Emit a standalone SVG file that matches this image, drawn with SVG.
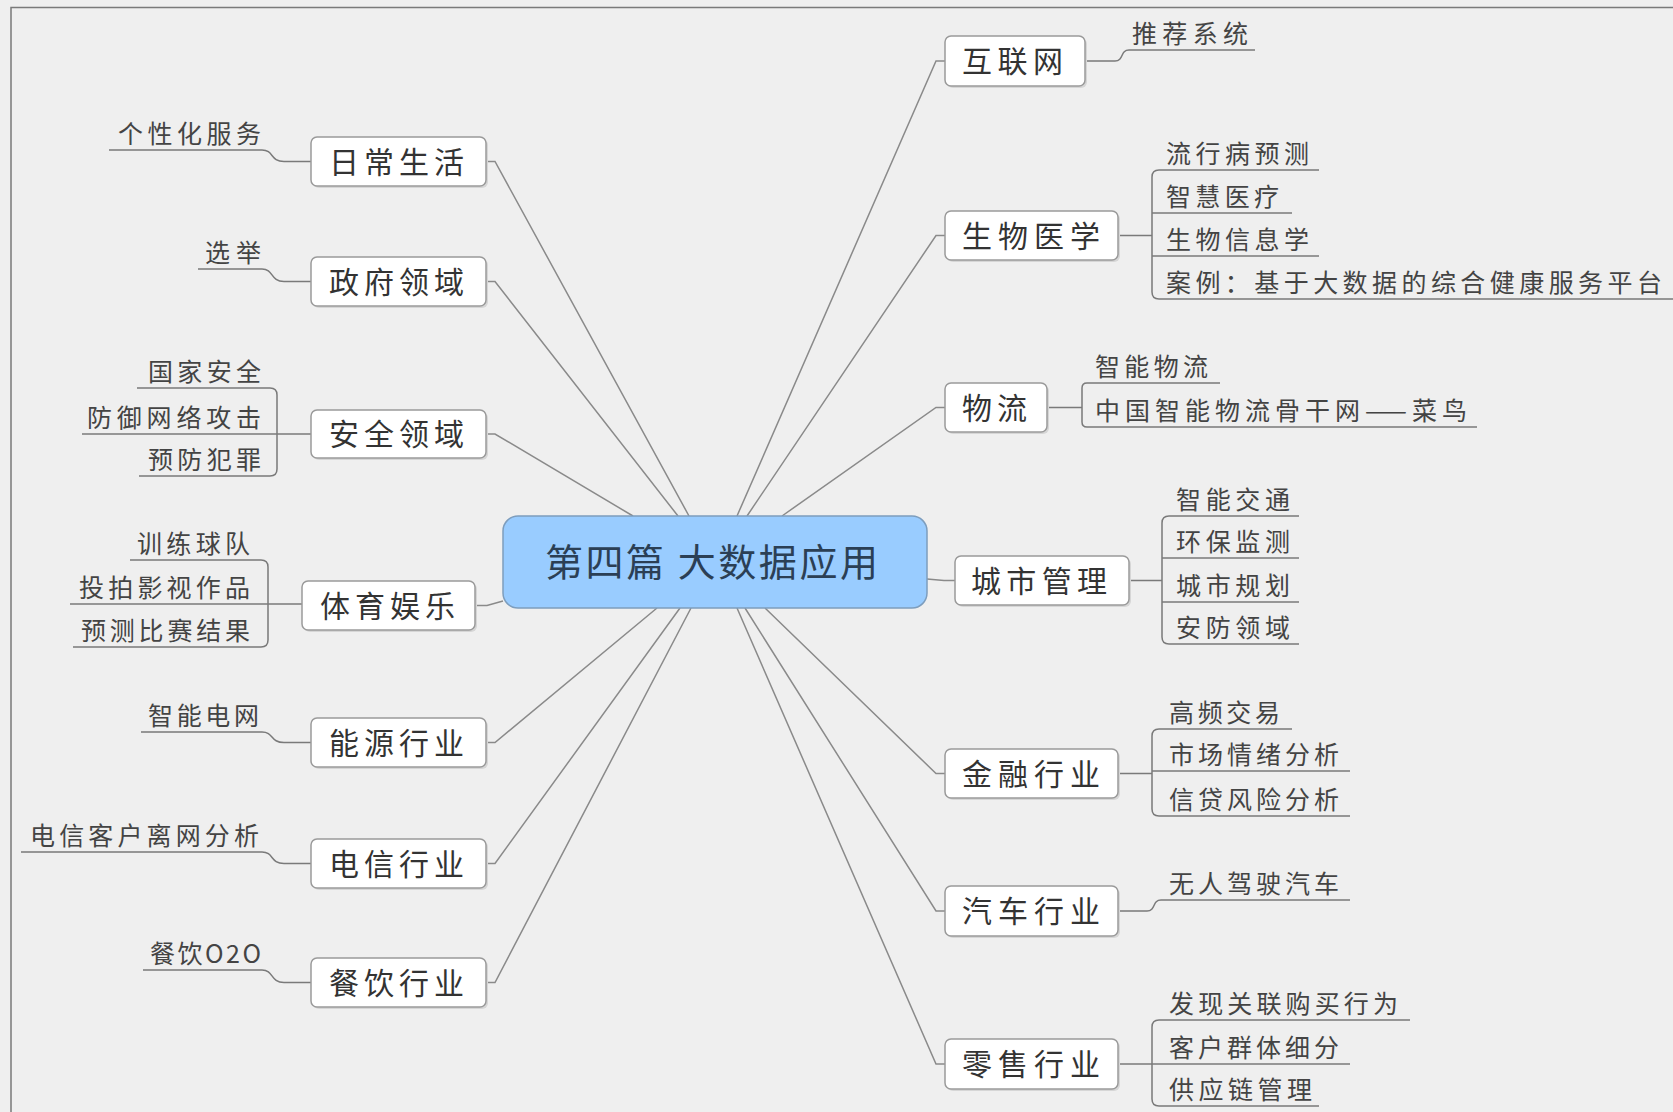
<svg xmlns="http://www.w3.org/2000/svg" width="1673" height="1112" viewBox="0 0 1673 1112">
<style>
.bg{fill:#efefef}
.frame{fill:none;stroke:#7a7a7a;stroke-width:1.5}
.box{fill:#ffffff;stroke:#9a9a9a;stroke-width:1.5}
.shadow{fill:#d6d6d6}
.nt{font-family:"Noto Sans CJK SC","Noto Sans",sans-serif;font-size:30px;fill:#333}
.st{font-family:"Noto Sans CJK SC","Noto Sans",sans-serif;font-size:25px;fill:#444}
.ct{font-family:"Noto Sans CJK SC","Noto Sans",sans-serif;font-size:38px;fill:#2b3f55}
.ln{fill:none;stroke:#8a8a8a;stroke-width:1.5}
.ul{fill:none;stroke:#7a7a7a;stroke-width:1.5}
</style>
<rect class="bg" x="0" y="0" width="1673" height="1112"/>
<path class="frame" d="M11,1112 V7.5 H1673"/>

<g id="connectors">
  <path class="ln" d="M486,161.5 H495 L689,516"/>
  <path class="ln" d="M486,281.5 H495 L678,516"/>
  <path class="ln" d="M486,434 H495 L633,516"/>
  <path class="ln" d="M475,605.5 H487 L503,601"/>
  <path class="ln" d="M486,742.5 H495 L657,608"/>
  <path class="ln" d="M486,863.5 H495 L680,608"/>
  <path class="ln" d="M486,982.5 H495 L691,608"/>
  <path class="ln" d="M945,61 H936 L737,516"/>
  <path class="ln" d="M945,235.5 H936 L747,516"/>
  <path class="ln" d="M945,407.5 H936 L782,516"/>
  <path class="ln" d="M955,580.5 H944 L927,579"/>
  <path class="ln" d="M945,773.5 H936 L765,608"/>
  <path class="ln" d="M945,911 H936 L745,608"/>
  <path class="ln" d="M945,1064 H936 L737,608"/>

  <path class="ul" d="M109,150 H262 C274,150 270,161.5 284,161.5 H311"/>
  <path class="ul" d="M198,269 H262 C274,269 270,281.5 284,281.5 H311"/>
  <path class="ul" d="M137,388 H270 Q277,388 277,395 V469 Q277,476 270,476 H139"/>
  <path class="ul" d="M82,434 H311"/>
  <path class="ul" d="M130,560 H261 Q268,560 268,567 V640 Q268,647 261,647 H73"/>
  <path class="ul" d="M70,604 H302"/>
  <path class="ul" d="M141,732 H262 C274,732 270,742.5 284,742.5 H311"/>
  <path class="ul" d="M21,852 H262 C274,852 270,863.5 284,863.5 H311"/>
  <path class="ul" d="M143,970 H262 C274,970 270,982.5 284,982.5 H311"/>

  <path class="ul" d="M1085,61 H1115 C1124,61 1120,50 1129,50 H1255"/>
  <path class="ul" d="M1118,235.5 H1152"/>
  <path class="ul" d="M1319,170 H1159 Q1152,170 1152,177 V292 Q1152,299 1159,299 H1673"/>
  <path class="ul" d="M1152,213 H1292"/>
  <path class="ul" d="M1152,256 H1319"/>
  <path class="ul" d="M1047,407.5 H1082"/>
  <path class="ul" d="M1220,383 H1087 Q1082,383 1082,388 V422 Q1082,427 1087,427 H1477"/>
  <path class="ul" d="M1129,580.5 H1162"/>
  <path class="ul" d="M1299,516 H1169 Q1162,516 1162,523 V637 Q1162,644 1169,644 H1299"/>
  <path class="ul" d="M1162,558 H1299"/>
  <path class="ul" d="M1162,602 H1299"/>
  <path class="ul" d="M1118,773.5 H1152"/>
  <path class="ul" d="M1292,729 H1159 Q1152,729 1152,736 V809 Q1152,816 1159,816 H1350"/>
  <path class="ul" d="M1152,771 H1350"/>
  <path class="ul" d="M1118,911 H1147 C1156,911 1152,900 1161,900 H1350"/>
  <path class="ul" d="M1118,1064 H1152"/>
  <path class="ul" d="M1410,1020 H1159 Q1152,1020 1152,1027 V1099 Q1152,1106 1159,1106 H1319"/>
  <path class="ul" d="M1152,1064 H1350"/>
</g>

<g id="center">
  <rect x="503" y="516" width="424" height="92" rx="15" fill="#99ccff" stroke="#7d9dbd" stroke-width="1.5"/>
  <text class="ct" x="545" y="576" textLength="333" lengthAdjust="spacing">第四篇 大数据应用</text>
</g>

<g id="n-daily">
  <rect class="shadow" x="313" y="139" width="175" height="49" rx="6"/>
  <rect class="box" x="311" y="137" width="175" height="49" rx="6"/>
  <text class="nt" x="329" y="172.5" textLength="135" lengthAdjust="spacing">日常生活</text>
</g>
<g id="n-gov">
  <rect class="shadow" x="313" y="259" width="175" height="49" rx="6"/>
  <rect class="box" x="311" y="257" width="175" height="49" rx="6"/>
  <text class="nt" x="329" y="292.5" textLength="135" lengthAdjust="spacing">政府领域</text>
</g>
<g id="n-sec">
  <rect class="shadow" x="313" y="412" width="175" height="48" rx="6"/>
  <rect class="box" x="311" y="410" width="175" height="48" rx="6"/>
  <text class="nt" x="329" y="445" textLength="135" lengthAdjust="spacing">安全领域</text>
</g>
<g id="n-sport">
  <rect class="shadow" x="304" y="583" width="173" height="49" rx="6"/>
  <rect class="box" x="302" y="581" width="173" height="49" rx="6"/>
  <text class="nt" x="320" y="616.5" textLength="135" lengthAdjust="spacing">体育娱乐</text>
</g>
<g id="n-energy">
  <rect class="shadow" x="313" y="720" width="175" height="49" rx="6"/>
  <rect class="box" x="311" y="718" width="175" height="49" rx="6"/>
  <text class="nt" x="329" y="753.5" textLength="135" lengthAdjust="spacing">能源行业</text>
</g>
<g id="n-tele">
  <rect class="shadow" x="313" y="841" width="175" height="49" rx="6"/>
  <rect class="box" x="311" y="839" width="175" height="49" rx="6"/>
  <text class="nt" x="329" y="874.5" textLength="135" lengthAdjust="spacing">电信行业</text>
</g>
<g id="n-food">
  <rect class="shadow" x="313" y="960" width="175" height="49" rx="6"/>
  <rect class="box" x="311" y="958" width="175" height="49" rx="6"/>
  <text class="nt" x="329" y="993.5" textLength="135" lengthAdjust="spacing">餐饮行业</text>
</g>

<g id="n-net">
  <rect class="shadow" x="947" y="38" width="140" height="50" rx="6"/>
  <rect class="box" x="945" y="36" width="140" height="50" rx="6"/>
  <text class="nt" x="962" y="72" textLength="101" lengthAdjust="spacing">互联网</text>
</g>
<g id="n-bio">
  <rect class="shadow" x="947" y="213" width="173" height="49" rx="6"/>
  <rect class="box" x="945" y="211" width="173" height="49" rx="6"/>
  <text class="nt" x="962" y="246.5" textLength="138" lengthAdjust="spacing">生物医学</text>
</g>
<g id="n-log">
  <rect class="shadow" x="947" y="385" width="102" height="49" rx="6"/>
  <rect class="box" x="945" y="383" width="102" height="49" rx="6"/>
  <text class="nt" x="962" y="418.5" textLength="65" lengthAdjust="spacing">物流</text>
</g>
<g id="n-city">
  <rect class="shadow" x="957" y="558" width="174" height="49" rx="6"/>
  <rect class="box" x="955" y="556" width="174" height="49" rx="6"/>
  <text class="nt" x="971" y="591.5" textLength="136" lengthAdjust="spacing">城市管理</text>
</g>
<g id="n-fin">
  <rect class="shadow" x="947" y="751" width="173" height="49" rx="6"/>
  <rect class="box" x="945" y="749" width="173" height="49" rx="6"/>
  <text class="nt" x="962" y="784.5" textLength="138" lengthAdjust="spacing">金融行业</text>
</g>
<g id="n-car">
  <rect class="shadow" x="947" y="888" width="173" height="50" rx="6"/>
  <rect class="box" x="945" y="886" width="173" height="50" rx="6"/>
  <text class="nt" x="962" y="922" textLength="138" lengthAdjust="spacing">汽车行业</text>
</g>
<g id="n-retail">
  <rect class="shadow" x="947" y="1041" width="173" height="50" rx="6"/>
  <rect class="box" x="945" y="1039" width="173" height="50" rx="6"/>
  <text class="nt" x="962" y="1075" textLength="138" lengthAdjust="spacing">零售行业</text>
</g>

<g id="s-left">
  <text class="st" x="118" y="143" textLength="143" lengthAdjust="spacing">个性化服务</text>
  <text class="st" x="205" y="262" textLength="56" lengthAdjust="spacing">选举</text>
  <text class="st" x="148" y="381" textLength="113" lengthAdjust="spacing">国家安全</text>
  <text class="st" x="87" y="427" textLength="174" lengthAdjust="spacing">防御网络攻击</text>
  <text class="st" x="148" y="469" textLength="113" lengthAdjust="spacing">预防犯罪</text>
  <text class="st" x="137" y="553" textLength="113" lengthAdjust="spacing">训练球队</text>
  <text class="st" x="79" y="597" textLength="171" lengthAdjust="spacing">投拍影视作品</text>
  <text class="st" x="81" y="640" textLength="169" lengthAdjust="spacing">预测比赛结果</text>
  <text class="st" x="148" y="725" textLength="111" lengthAdjust="spacing">智能电网</text>
  <text class="st" x="30" y="845" textLength="229" lengthAdjust="spacing">电信客户离网分析</text>
  <text class="st" x="150" y="963" textLength="111" lengthAdjust="spacing">餐饮O2O</text>
</g>

<g id="s-right">
  <text class="st" x="1132" y="43" textLength="116" lengthAdjust="spacing">推荐系统</text>
  <text class="st" x="1166" y="163" textLength="143" lengthAdjust="spacing">流行病预测</text>
  <text class="st" x="1166" y="206" textLength="113" lengthAdjust="spacing">智慧医疗</text>
  <text class="st" x="1166" y="249" textLength="143" lengthAdjust="spacing">生物信息学</text>
  <text class="st" x="1166" y="292" textLength="496" lengthAdjust="spacing">案例：基于大数据的综合健康服务平台</text>
  <text class="st" x="1095" y="376" textLength="113" lengthAdjust="spacing">智能物流</text>
  <text class="st" x="1095" y="420" textLength="372" lengthAdjust="spacing">中国智能物流骨干网——菜鸟</text>
  <text class="st" x="1176" y="509" textLength="114" lengthAdjust="spacing">智能交通</text>
  <text class="st" x="1176" y="551" textLength="114" lengthAdjust="spacing">环保监测</text>
  <text class="st" x="1176" y="595" textLength="114" lengthAdjust="spacing">城市规划</text>
  <text class="st" x="1176" y="637" textLength="114" lengthAdjust="spacing">安防领域</text>
  <text class="st" x="1169" y="722" textLength="111" lengthAdjust="spacing">高频交易</text>
  <text class="st" x="1169" y="764" textLength="170" lengthAdjust="spacing">市场情绪分析</text>
  <text class="st" x="1169" y="809" textLength="170" lengthAdjust="spacing">信贷风险分析</text>
  <text class="st" x="1169" y="893" textLength="170" lengthAdjust="spacing">无人驾驶汽车</text>
  <text class="st" x="1169" y="1013" textLength="229" lengthAdjust="spacing">发现关联购买行为</text>
  <text class="st" x="1169" y="1057" textLength="170" lengthAdjust="spacing">客户群体细分</text>
  <text class="st" x="1169" y="1099" textLength="143" lengthAdjust="spacing">供应链管理</text>
</g>
</svg>
